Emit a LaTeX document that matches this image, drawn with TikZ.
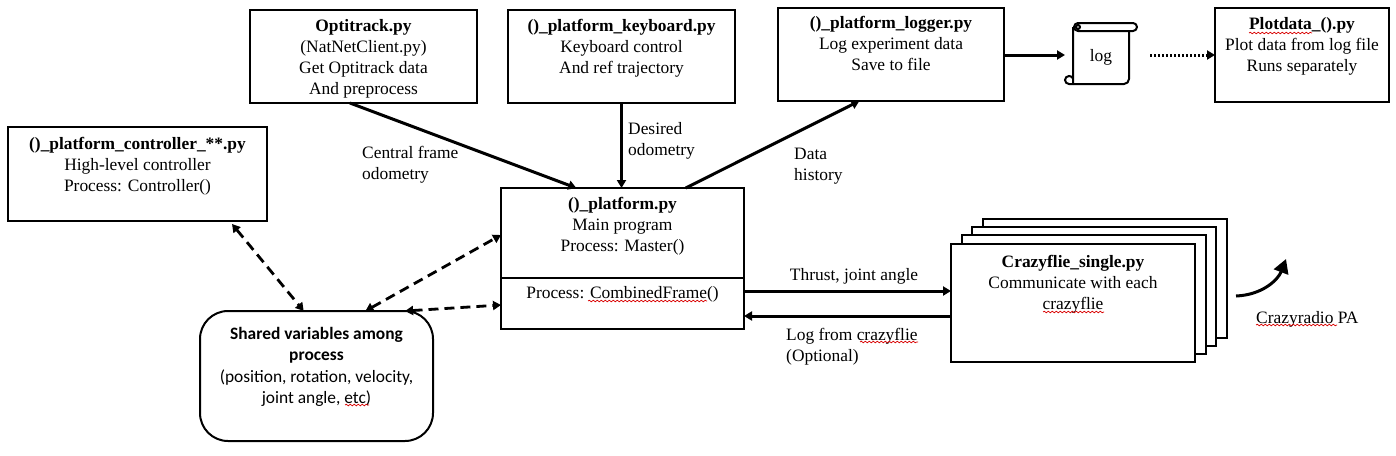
\documentclass[tikz,border=0pt]{standalone}
\usepackage{fontspec}
\setmainfont{Liberation Serif}
\newfontfamily\calfont{Carlito}
\usetikzlibrary{arrows.meta,calc,decorations.pathmorphing}
\tikzset{
  x=1pt,y=-1pt,
  boxnode/.style={draw=black,line width=2pt,fill=white,rectangle,inner sep=0pt,outer sep=0pt,anchor=north west},
  txt/.style={align=center,inner sep=0pt,anchor=north,font=\fontsize{17.4}{21}\selectfont},
  lefttxt/.style={txt,align=left,anchor=north west},
  solidarrow/.style={line width=3pt,-{Triangle[length=8pt,width=9pt]}},
  dasharrow/.style={line width=2.8pt,dash pattern=on 10pt off 6pt,{Triangle[length=8pt,width=9pt]}-{Triangle[length=8pt,width=9pt]}},
  dotarrow/.style={line width=3pt,dash pattern=on 2.4pt off 1.6pt,-{Triangle[length=8pt,width=9pt]}},
  squig/.style={draw=red!85!black,line width=0.7pt,decorate,decoration={snake,amplitude=0.8pt,segment length=4pt}},
  scrollline/.style={draw=black,line width=2pt,line join=round,fill=white}
}
\begin{document}
\begin{tikzpicture}
\useasboundingbox (0,0) rectangle (1396,455);
\fill[white] (0,0) rectangle (1396,455);

% stacked crazyflie boxes
\node[boxnode,minimum width=244pt,minimum height=119pt] (cf4) at (983,219) {};
\node[boxnode,minimum width=244pt,minimum height=119pt] (cf3) at (972,227) {};
\node[boxnode,minimum width=244pt,minimum height=119pt] (cf2) at (962,235) {};
\node[boxnode,minimum width=244pt,minimum height=118pt] (cf1) at (951,244) {};
\node[txt] (cft) at (1073,255) {\textbf{Crazyflie\_single.py}\\Communicate with each\\crazyflie};

\node[boxnode,minimum width=227pt,minimum height=93pt] (opt) at (250,10) {};
\node[txt] (optt) at (363.5,19) {\textbf{Optitrack.py}\\(NatNetClient.py)\\Get Optitrack data\\And preprocess};

\node[boxnode,minimum width=227pt,minimum height=93pt] (key) at (508,10) {};
\node[txt] (keyt) at (621.5,19) {\textbf{()\_platform\_keyboard.py}\\Keyboard control\\And ref trajectory};

\node[boxnode,minimum width=226pt,minimum height=93pt] (logr) at (778,8) {};
\node[txt] (logrt) at (891,16) {\textbf{()\_platform\_logger.py}\\Log experiment data\\Save to file};

\node[boxnode,minimum width=174pt,minimum height=94pt] (plot) at (1215,8) {};
\node[txt] (plott) at (1302,17) {\textbf{Plotdata\_().py}\\Plot data from log file\\Runs separately};

\node[boxnode,minimum width=259pt,minimum height=94pt] (ctrl) at (8,127) {};
\node[txt] (ctrlt) at (137.5,137.5) {\textbf{()\_platform\_controller\_**.py}\\High-level controller\\Process: Controller()};

\node[boxnode,minimum width=243pt,minimum height=141pt] (main) at (501,188) {};
\draw[line width=2pt] (main.west |- 0,278) -- (main.east |- 0,278);
\node[txt] (maint) at (622.5,197.5) {\textbf{()\_platform.py}\\Main program\\Process: Master()};
\node[txt] (combt) at (622.5,286) {Process: CombinedFrame()};

\node[boxnode,rounded corners=28pt,minimum width=233pt,minimum height=130pt] (shared) at (200,311) {};
\node[txt,font=\calfont\fontsize{17.4}{21.3}\selectfont] (sharedt) at (316.5,327) {\textbf{Shared variables among}\\\textbf{process}\\(position, rotation, velocity,\\joint angle, etc)};

% log scroll
\coordinate (logw) at (1065,55);
\coordinate (loge) at (1137,55);
\draw[scrollline] (1073,27) -- (1073,84) -- (1124,84) arc (90:0:5) -- (1129,31);
\draw[scrollline] (1078,23) -- (1133,23) arc (-90:90:4) -- (1078,31) arc (90:270:4) -- cycle;
\draw[line width=2pt] (1078,27) circle (2);
\draw[line width=2pt] (1073,84) -- (1069,84) arc (90:330:4);
\node[txt] (logt) at (1101,49) {log};

% connectors
\draw[solidarrow] ($(opt.south west)!0.44!(opt.south east)$) -- ($(main.north west)!0.31!(main.north east)$);
\draw[solidarrow] (key.south) -- (main.north -| key.south);
\draw[solidarrow] ($(main.north west)!0.76!(main.north east)$) -- ($(logr.south west)!0.36!(logr.south east)$);
\draw[solidarrow] (logr.east |- loge) -- (logw);
\draw[dotarrow] (1150,55) coordinate (dots) -- (dots -| plot.west);
\draw[dasharrow] ($(ctrl.south west)!0.865!(ctrl.south east)+(0,3)$) -- ($(shared.north west)!0.445!(shared.north east)$);
\draw[dasharrow] ($(shared.north west)!0.71!(shared.north east)$) -- (main.west |- 0,235);
\draw[dasharrow] ($(shared.north west)!0.88!(shared.north east)$) -- (main.west |- 0,305);
\draw[solidarrow] (main.east |- 0,291) -- (cf1.west |- 0,291);
\draw[solidarrow] (cf1.west |- 0,316) -- (main.east |- 0,316);
\coordinate (radios) at (1236,296);
\coordinate (radioe) at (1286,259);
\draw[line width=3pt,-{Triangle[length=14pt,width=15pt]}] (radios) .. controls (1262,295) and (1278,280) .. (radioe);

% connector labels
\node[lefttxt] (l1) at (362,146) {Central frame\\odometry};
\node[lefttxt] (l2) at (628,122) {Desired\\odometry};
\node[lefttxt] (l3) at (794,147.5) {Data\\history};
\node[txt] (l4) at (854,268) {Thrust, joint angle};
\node[lefttxt] (l5) at (786,328) {Log from crazyflie\\(Optional)};
\node[lefttxt] (l6) at (1256,311) {Crazyradio PA};

% spell-check underlines
\path[squig] (1249,33) -- (1312,33);
\path[squig] (1043,312) -- (1104,312);
\path[squig] (1256,325) -- (1337,325);
\path[squig] (588,301) -- (707,301);
\path[squig] (860,342) -- (918,342);
\path[squig] (345,405) -- (369,405);
\end{tikzpicture}
\end{document}
